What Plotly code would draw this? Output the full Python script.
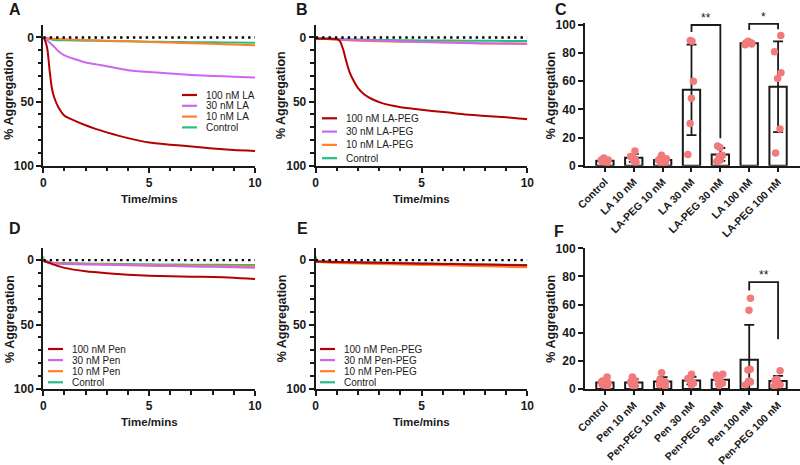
import numpy as np
import plotly.graph_objects as go

W, H = 800, 465
FONT = "Liberation Sans"
INK = "#1a1a1a"
PINK = "rgb(242,122,122)"

# ---------------- data ----------------
# series colours (100 nM, 30 nM, 10 nM, Control)
C100, C30, C10, CCTRL = "#b30000", "#cc66ee", "#ff7f2a", "#22c084"

# Panel A: LA
tA_fast = [0, 0.1, 0.2, 0.3, 0.4, 0.5, 0.7, 1.0, 1.5, 2, 2.5, 3, 4, 5, 6, 7, 8, 9, 10]
A_100 = [0, 3, 10, 26, 39, 46, 54, 61, 65, 68.5, 71.5, 74, 78.5, 82, 83.6, 85, 86.5, 87.8, 88.5]
A_30 = [0, 1, 2.5, 4, 5.5, 7, 10.5, 14, 17, 19.5, 21, 22.5, 25.5, 27, 28.2, 29.2, 30, 30.6, 31.2]
t_slow = [0, 0.5, 1, 2, 3, 4, 5, 6, 7, 8, 9, 10]
A_10 = [0, 1, 1.5, 2, 2.5, 3, 3.5, 4, 4.5, 5, 5.5, 6]
A_ctrl = [0, 2, 2.2, 2.5, 2.8, 3, 3.3, 3.5, 3.7, 3.8, 4, 4.2]
names_A = ["100 nM LA", "30 nM LA", "10 nM LA", "Control"]

# Panel B: LA-PEG
tB_fast = [0, 0.5, 1.0, 1.15, 1.3, 1.45, 1.6, 1.8, 2.0, 2.3, 2.65, 3.1, 3.9, 4.7, 5.5, 6.3, 7.05, 7.85, 8.6, 9.4, 10]
B_100 = [1, 1, 1.2, 3, 9.5, 19, 27, 34, 39.5, 44.5, 48, 51, 54, 55.8, 57.3, 58.6, 60, 61, 61.8, 62.8, 63.8]
B_30 = [0.5, 1, 1.5, 2, 2.5, 3, 3.5, 4, 4.3, 4.6, 4.9, 5.2]
B_10 = [0.5, 1.2, 1.8, 2.5, 3.0, 3.3, 3.5, 3.7, 4.0, 4.8, 4.6, 4.8]
B_ctrl = [0.5, 0.9, 1.2, 1.6, 1.9, 2.1, 2.3, 2.4, 2.5, 2.6, 2.7, 2.8]
names_B = ["100 nM LA-PEG", "30 nM LA-PEG", "10 nM LA-PEG", "Control"]

# Panel D: Pen
t_spike = [0, 0.05, 0.5, 1, 2, 3, 4, 5, 6, 7, 8, 9, 10]
D_100 = [0.5, 3.5, 6, 8.7, 10.2, 11.3, 12.1, 12.5, 12.8, 13.1, 13.6, 14.6]
D_30 = [0, 2.5, 3, 3.3, 3.6, 4, 4.3, 4.6, 4.9, 5.2, 5.5, 5.8]
D_10 = [0, 2.2, 2.6, 3, 3.3, 3.6, 3.8, 4, 4.2, 4.4, 4.5, 4.7]
D_ctrl = [-3, 1, 2, 2.3, 2.6, 2.8, 3.0, 3.2, 3.4, 3.5, 3.6, 3.7, 3.8]
names_D = ["100 nM Pen", "30 nM Pen", "10 nM Pen", "Control"]

# Panel E: Pen-PEG
E_100 = [1, 1.3, 1.5, 1.8, 2.1, 2.4, 2.7, 2.9, 3.2, 3.4, 3.7, 4.0]
E_30 = [1, 1.3, 1.6, 1.9, 2.2, 2.5, 2.8, 3.1, 3.4, 3.7, 4.1, 4.5]
E_10 = [1, 1.8, 2.2, 2.6, 3.0, 3.4, 3.7, 4.0, 4.4, 4.8, 5.2, 5.6]
E_ctrl = [-3, 0.8, 1, 1.2, 1.5, 1.8, 2.1, 2.4, 2.7, 3.0, 3.3, 3.5, 3.7]
names_E = ["100 nM Pen-PEG", "30 nM Pen-PEG", "10 nM Pen-PEG", "Control"]

# Panel C: end-point aggregation (individual replicates)
cats_C = ["Control", "LA 10 nM", "LA-PEG 10 nM", "LA 30 nM", "LA-PEG 30 nM", "LA 100 nM", "LA-PEG 100 nM"]
pts_C = [
    [5.5, 4, 4, 3, 1.5],
    [10.5, 6.5, 6, 4.5, 3.5, 2.5],
    [7.5, 5, 4.5, 4, 2, 1.5],
    [88.5, 89, 60, 48, 30, 8],
    [14, 13, 7.5, 6.5, 4, 3],
    [87, 88.5, 87.5, 86.5, 87, 86],
    [92.5, 81, 66, 62, 26, 9],
]
# significance: (cat i, cat j, bracket top, left leg end, right leg end, label)
sig_C = [(3, 4, 100, 95, 19.5, "**"), (5, 6, 100.8, 96.5, 97, "*")]

# Panel F
cats_F = ["Control", "Pen 10 nM", "Pen-PEG 10 nM", "Pen 30 nM", "Pen-PEG 30 nM", "Pen 100 nM", "Pen-PEG 100 nM"]
pts_F = [
    [8.5, 6, 5, 4, 3, 1],
    [8.5, 6, 5, 4, 2.5, 2],
    [11.5, 6.5, 5.5, 5, 3.5, 3, 2],
    [10.5, 7.5, 6, 5, 4, 3],
    [10.5, 10, 7, 5.5, 4, 2.5],
    [64.5, 56, 14, 13.5, 5.5, 5.5, 5, 3],
    [13, 7, 6, 5, 4, 3, 2],
]
sig_F = [(5, 6, 76, 70, 35.3, "**")]

# ---------------- figure ----------------
fig = go.Figure()

def fx(p):
    return p / W

def fy(p):
    return 1 - p / H

def add_curves(ax, series):
    # series: list of (t, y, color) in drawing order
    for t, y, c in series:
        fig.add_trace(go.Scatter(x=t, y=y, mode="lines", line=dict(color=c, width=2, shape="spline", smoothing=0.5),
                                 xaxis="x" + ax, yaxis="y" + ax, showlegend=False, hoverinfo="skip"))
    fig.add_trace(go.Scatter(x=[0, 10], y=[0, 0], mode="lines",
                             line=dict(color="black", width=2.4, dash="2.4px,4px"),
                             xaxis="x" + ax, yaxis="y" + ax, showlegend=False, hoverinfo="skip"))

add_curves("", [(t_slow, A_ctrl, CCTRL), (t_slow, A_10, C10), (tA_fast, A_30, C30), (tA_fast, A_100, C100)])
add_curves("2", [(t_slow, B_ctrl, CCTRL), (t_slow, B_10, C10), (t_slow, B_30, C30), (tB_fast, B_100, C100)])
add_curves("4", [(t_spike, D_ctrl, CCTRL), (t_slow, D_10, C10), (t_slow, D_30, C30), (t_slow, D_100, C100)])
add_curves("5", [(t_spike, E_ctrl, CCTRL), (t_slow, E_30, C30), (t_slow, E_10, C10), (t_slow, E_100, C100)])

def add_bars(ax, cats, pts, sigs):
    means = [float(np.mean(p)) for p in pts]
    sds = [float(np.std(p, ddof=1)) for p in pts]
    fig.add_trace(go.Bar(x=cats, y=means, width=0.6,
                         marker=dict(color="white", line=dict(color=INK, width=2)),
                         error_y=dict(type="data", array=sds, visible=True, color=INK, thickness=1.8, width=5),
                         xaxis="x" + ax, yaxis="y" + ax, showlegend=False, hoverinfo="skip"))
    xs = [c for c, p in zip(cats, pts) for _ in p]
    ys = [v for p in pts for v in p]
    fig.add_trace(go.Box(x=xs, y=ys, boxpoints="all", jitter=0.6, pointpos=0,
                         marker=dict(color=PINK, size=7.5, line=dict(width=0)),
                         line=dict(width=0, color="rgba(0,0,0,0)"), fillcolor="rgba(0,0,0,0)",
                         whiskerwidth=0, xaxis="x" + ax, yaxis="y" + ax, showlegend=False, hoverinfo="skip"))
    for i, j, top, yl, yr, lab in sigs:
        fig.add_trace(go.Scatter(x=[cats[i], cats[i], cats[j], cats[j]], y=[yl, top, top, yr], mode="lines",
                                 line=dict(color=INK, width=1.8), xaxis="x" + ax, yaxis="y" + ax,
                                 showlegend=False, hoverinfo="skip"))
        fig.add_annotation(x=(i + j) / 2, y=top, xref="x" + ax, yref="y" + ax, text=lab, showarrow=False,
                           yanchor="bottom", yshift=-2, font=dict(family=FONT, size=12, color=INK))

add_bars("3", cats_C, pts_C, sig_C)
add_bars("6", cats_F, pts_F, sig_F)

# ---------------- axes ----------------
tick_font = dict(family=FONT, size=12, color=INK, weight="bold")
common = dict(showline=True, linecolor=INK, linewidth=2, ticks="outside", tickcolor=INK, tickwidth=1.8,
              showgrid=False, zeroline=False, tickfont=tick_font, fixedrange=True, automargin=False)

def time_x(x0, x1, y_anchor):
    return dict(domain=[fx(x0), fx(x1)], anchor=y_anchor, range=[0, 10], tick0=0, dtick=5, ticklen=5,
                minor=dict(dtick=1, tick0=0, ticks="outside", ticklen=3.5, tickwidth=1.6, tickcolor=INK),
                **common)

def time_y(y0px, y1px, x_anchor, top):
    return dict(domain=[fy(y1px), fy(y0px)], anchor=x_anchor, range=[100, top], tick0=0, dtick=50, ticklen=5,
                minor=dict(dtick=10, tick0=0, ticks="outside", ticklen=3.5, tickwidth=1.6, tickcolor=INK),
                **common)

def bar_x(x0, y_anchor):
    c = dict(common)
    c["tickfont"] = dict(family=FONT, size=10.5, color=INK, weight="bold")
    return dict(domain=[fx(x0), 1], anchor=y_anchor, type="category", range=[-0.69, 6.76], tickangle=-45,
                ticklen=4, **c)

def bar_y(y0px, y1px, x_anchor, top):
    return dict(domain=[fy(y1px), fy(y0px)], anchor=x_anchor, range=[0, top], tick0=0, dtick=20, ticklen=5,
                **common)

AX_L, AX_R = 43.3, 255.0
BX_L, BX_R = 315.7, 527.3
CX_L = 585.0
TOP1, BOT1 = 25.0, 165.7
TOP2, BOT2 = 248.3, 389.0
C_TOP = BOT1 - 101.5 * (BOT1 - 25.0) / 100

fig.update_layout(
    template="none",
    xaxis=time_x(AX_L, AX_R, "y"), yaxis=time_y(TOP1, BOT1, "x", -9.7),
    xaxis2=time_x(BX_L, BX_R, "y2"), yaxis2=time_y(TOP1, BOT1, "x2", -9.7),
    xaxis3=bar_x(CX_L, "y3"), yaxis3=bar_y(C_TOP, BOT1, "x3", 101.5),
    xaxis4=time_x(AX_L, AX_R, "y4"), yaxis4=time_y(TOP2, BOT2, "x4", -9.2),
    xaxis5=time_x(BX_L, BX_R, "y5"), yaxis5=time_y(TOP2, BOT2, "x5", -9.2),
    xaxis6=bar_x(CX_L, "y6"), yaxis6=bar_y(TOP2, BOT2, "x6", 100),
    width=W, height=H, margin=dict(l=0, r=0, t=0, b=0, autoexpand=False),
    paper_bgcolor="white", plot_bgcolor="white", showlegend=False,
    bargap=0.4,
)

# ---------------- titles / labels ----------------
def ann(x, y, text, size, bold=False, angle=0, xanchor="center"):
    fig.add_annotation(xref="paper", yref="paper", x=fx(x), y=fy(y), text=text, showarrow=False,
                       textangle=angle, xanchor=xanchor, yanchor="middle",
                       font=dict(family=FONT, size=size, color=INK, weight="bold" if bold else "normal"))

for axl, top, bot in [(AX_L, TOP1, BOT1), (BX_L, TOP1, BOT1), (CX_L, 25.0, BOT1),
                      (AX_L, TOP2, BOT2), (BX_L, TOP2, BOT2), (CX_L, TOP2, BOT2)]:
    ann(axl - 34, (top + bot) / 2, "% Aggregation", 12.5, bold=True, angle=-90)

for axl, axr, bot in [(AX_L, AX_R, BOT1), (BX_L, BX_R, BOT1), (AX_L, AX_R, BOT2), (BX_L, BX_R, BOT2)]:
    ann((axl + axr) / 2, bot + 33, "Time/mins", 11.5, bold=True)

for lab, x, y in [("A", 15, 9), ("B", 302, 9), ("C", 561, 9), ("D", 15, 229), ("E", 302, 229), ("F", 559, 231)]:
    ann(x, y, lab, 16, bold=True)

# ---------------- legends (drawn in-panel) ----------------
def legend(names, colors, x0, y0, dy):
    for k, (n, c) in enumerate(zip(names, colors)):
        yc = y0 + k * dy
        fig.add_shape(type="line", xref="paper", yref="paper", x0=fx(x0), x1=fx(x0 + 15), y0=fy(yc), y1=fy(yc),
                      line=dict(color=c, width=2.2))
        fig.add_annotation(xref="paper", yref="paper", x=fx(x0 + 22), y=fy(yc), text=n, showarrow=False,
                           xanchor="left", yanchor="middle", font=dict(family=FONT, size=10, color=INK))

cols = [C100, C30, C10, CCTRL]
legend(names_A, cols, 182, 95, 10.8)
legend(names_B, cols, 322, 118.3, 13.3)
legend(names_D, cols, 48, 349, 11.1)
legend(names_E, cols, 320, 349, 11.1)

# the page's default 8px body margin would otherwise shift the 800x465 figure out of the window
fig.write_html("out.html", config={"displayModeBar": False},
               post_script="document.body.style.margin='0px';")
